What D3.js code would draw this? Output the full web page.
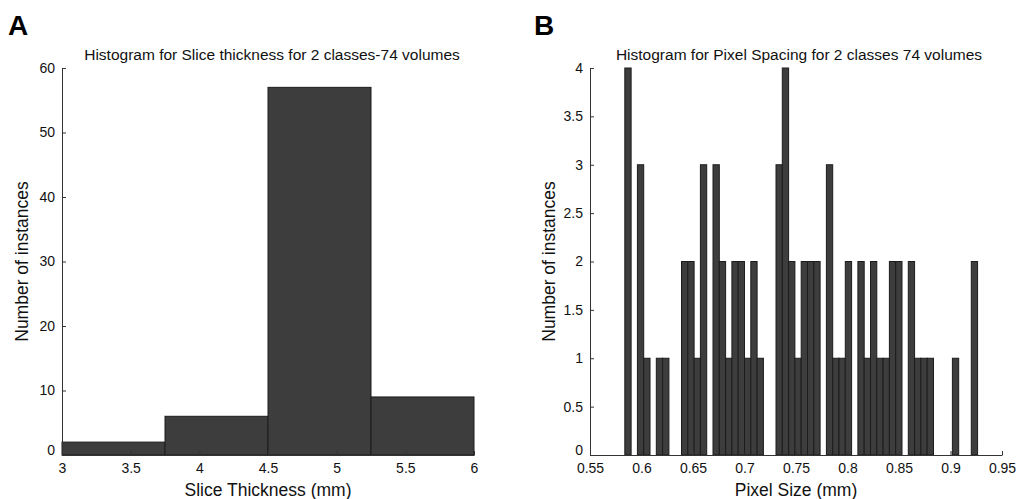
<!doctype html>
<html>
  <head>
    <meta charset="utf-8">
    <script src="https://cdn.jsdelivr.net/npm/d3@7"></script>
    <style>
      body { margin: 0; background: #fff; }
      svg { font-family: "Liberation Sans", Arial, Helvetica, sans-serif; }
      .axis path, .axis line { stroke: #333; }
      .axis text { font-size: 14px; fill: #111; }
    </style>
  </head>
  <body>
    <script>
        // panel A : slice thickness
        var sliceEdges = [3, 3.75, 4.5, 5.25, 6];
        var sliceCounts = [2, 6, 57, 9];
        var sliceTicksX = [3, 3.5, 4, 4.5, 5, 5.5, 6];
        var sliceTicksY = [0, 10, 20, 30, 40, 50, 60];

        // panel B : pixel spacing, 56 equal bins between min and max
        var spacingRange = [0.5838, 0.9263];
        var spacingCounts = [4, 0, 3, 1, 0, 1, 1, 0, 0, 2,
                             2, 1, 3, 0, 3, 2, 1, 2, 2, 1,
                             2, 1, 0, 0, 3, 4, 2, 1, 2, 2,
                             2, 0, 3, 1, 1, 2, 0, 2, 1, 2,
                             1, 1, 2, 2, 0, 2, 1, 1, 1, 0,
                             0, 0, 1, 0, 0, 2];
        var spacingTicksX = [0.55, 0.6, 0.65, 0.7, 0.75, 0.8, 0.85, 0.9, 0.95];
        var spacingTicksY = [0, 0.5, 1, 1.5, 2, 2.5, 3, 3.5, 4];

        var svg = d3.select("body").append("svg")
            .attr("width", 1020)
            .attr("height", 499);

        var binW = (spacingRange[1] - spacingRange[0]) / spacingCounts.length;
        var spacingBins = spacingCounts.map(function(c, i) {
            return { x0: spacingRange[0] + i * binW, x1: spacingRange[0] + (i + 1) * binW, n: c };
        });
        var sliceBins = sliceCounts.map(function(c, i) {
            return { x0: sliceEdges[i], x1: sliceEdges[i + 1], n: c };
        });

        var panels = [
            { letter: "A", lx: 8, title: "Histogram for Slice thickness for 2 classes-74 volumes", tx: 272,
              xlabel: "Slice Thickness (mm)", ylx: 22,
              x: d3.scaleLinear().domain([3, 6]).range([62, 474]),
              y: d3.scaleLinear().domain([0, 60]).range([455, 68]),
              bins: sliceBins, tx_ticks: sliceTicksX, ty_ticks: sliceTicksY },
            { letter: "B", lx: 534, title: "Histogram for Pixel Spacing for 2 classes 74 volumes", tx: 799,
              xlabel: "Pixel Size (mm)", ylx: 549,
              x: d3.scaleLinear().domain([0.55, 0.95]).range([590, 1002]),
              y: d3.scaleLinear().domain([0, 4]).range([455, 68]),
              bins: spacingBins, tx_ticks: spacingTicksX, ty_ticks: spacingTicksY }
        ];

        panels.forEach(function(p) {
            var g = svg.append("g");

            g.selectAll("rect.bar")
                .data(p.bins.filter(function(d) { return d.n > 0; }))
                .enter().append("rect")
                .attr("class", "bar")
                .attr("x", function(d) { return p.x(d.x0); })
                .attr("y", function(d) { return p.y(d.n); })
                .attr("width", function(d) { return p.x(d.x1) - p.x(d.x0); })
                .attr("height", function(d) { return p.y(0) - p.y(d.n); })
                .attr("fill", "#3d3d3d")
                .attr("stroke", "#1c1c1c")
                .attr("stroke-width", 1);

            // ticks point inward, like matlab
            g.append("g")
                .attr("class", "axis")
                .attr("transform", "translate(0," + p.y(0) + ")")
                .call(d3.axisBottom(p.x).tickValues(p.tx_ticks).tickFormat(d3.format("")).tickSize(-4).tickSizeOuter(0).tickPadding(8));

            var yax = g.append("g")
                .attr("class", "axis")
                .attr("transform", "translate(" + p.x.range()[0] + ",0)")
                .call(d3.axisLeft(p.y).tickValues(p.ty_ticks).tickFormat(d3.format("")).tickSize(-4).tickSizeOuter(0).tickPadding(7));

            // the zero label sits a bit higher so it clears the first x label
            yax.selectAll(".tick text").filter(function(d) { return d === 0; })
                .attr("dy", "-0.05em");

            g.append("text")
                .attr("x", p.lx).attr("y", 35)
                .attr("font-size", 28).attr("font-weight", "bold")
                .text(p.letter);

            g.append("text")
                .attr("x", p.tx).attr("y", 60)
                .attr("text-anchor", "middle")
                .attr("font-size", 15.5).attr("fill", "#111")
                .text(p.title);

            g.append("text")
                .attr("x", (p.x.range()[0] + p.x.range()[1]) / 2)
                .attr("y", 496)
                .attr("text-anchor", "middle")
                .attr("font-size", 17.5).attr("fill", "#111")
                .text(p.xlabel);

            g.append("text")
                .attr("transform", "translate(" + p.ylx + "," + ((p.y.range()[0] + p.y.range()[1]) / 2) + ") rotate(-90)")
                .attr("dy", "0.35em")
                .attr("text-anchor", "middle")
                .attr("font-size", 17.5).attr("fill", "#111")
                .text("Number of instances");
        });
    </script>
  </body>
</html>
